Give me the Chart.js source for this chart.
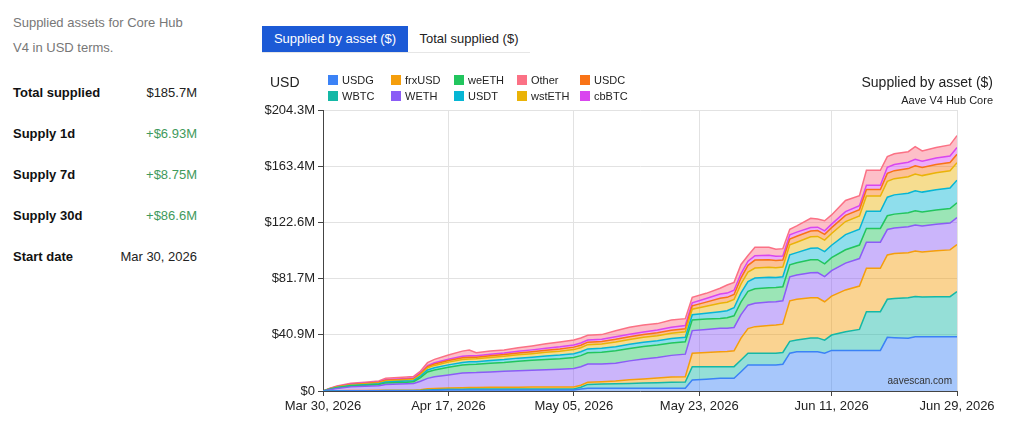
<!DOCTYPE html>
<html>
<head>
<meta charset="utf-8">
<script src="https://cdn.jsdelivr.net/npm/chart.js@4.4.1/dist/chart.umd.min.js"></script>
<style>
  body { margin: 0; width: 1024px; height: 428px; background: #fff; position: relative; overflow: hidden;
         font-family: "Liberation Sans", Arial, sans-serif; color: #222; }
  .intro { position: absolute; left: 13px; top: 10px; width: 220px; font-size: 13px; line-height: 25px; color: #777; }
  .stats { position: absolute; left: 13px; top: 72px; width: 184px; }
  .stats .row { display: flex; justify-content: space-between; height: 41px; line-height: 41px; font-size: 13px; }
  .stats .lbl { font-weight: bold; color: #111; }
  .stats .pos { color: #3f9a5c; }
  .tabs { position: absolute; left: 262px; top: 26px; height: 26px; display: flex; border-bottom: 1px solid #e6e6e6; width: 268px; }
  .tab { font-size: 13px; line-height: 26px; text-align: center; }
  .tab.on { background: #1c5ad6; color: #fff; width: 146px; }
  .tab.off { color: #222; width: 122px; }
  #wrap { position: absolute; left: 250px; top: 60px; width: 750px; height: 368px; }
  .unit { position: absolute; left: 270px; top: 74px; font-size: 14px; }
  #legend { position: absolute; left: 328px; top: 75px; display: grid; grid-template-columns: repeat(5, 63px); row-gap: 6px; }
  #legend .item { display: flex; align-items: center; font-size: 11px; height: 10px; }
  #legend .sw { width: 10px; height: 10px; margin-right: 4px; }
  .title { position: absolute; right: 31px; top: 74px; font-size: 14px; }
  .sub { position: absolute; right: 31px; top: 94px; font-size: 11px; }
  .mark { position: absolute; right: 72px; top: 375px; font-size: 10px; color: #333; }
</style>
</head>
<body>
<div class="intro">Supplied assets for Core Hub<br>V4 in USD terms.</div>
<div class="stats">
  <div class="row"><span class="lbl">Total supplied</span><span>$185.7M</span></div>
  <div class="row"><span class="lbl">Supply 1d</span><span class="pos">+$6.93M</span></div>
  <div class="row"><span class="lbl">Supply 7d</span><span class="pos">+$8.75M</span></div>
  <div class="row"><span class="lbl">Supply 30d</span><span class="pos">+$86.6M</span></div>
  <div class="row"><span class="lbl">Start date</span><span>Mar 30, 2026</span></div>
</div>
<div class="tabs"><div class="tab on">Supplied by asset ($)</div><div class="tab off">Total supplied ($)</div></div>
<div id="wrap"><canvas id="chartAssets" width="750" height="368"></canvas></div>
<div class="unit">USD</div>
<div id="legend"></div>
<div class="title">Supplied by asset ($)</div>
<div class="sub">Aave V4 Hub Core</div>
<div class="mark">aavescan.com</div>

<script>
// dias desde el 30 de marzo de 2026
const days = [0,1,2,4,6,8,9, 12,13,14,15,16,18, 20,21,22,24,26,28, 30,32,34,36,37,38, 40,42,44,46,48,50,
  52,53,55,57,58,59, 60,61,62,64,65,66, 67,68,70,71,72,73, 75,77,78,80,81,82, 84,85,86,88,90,91];

const tickDays = [0, 18, 36, 54, 73, 91];
const tickLabels = ['Mar 30, 2026', 'Apr 17, 2026', 'May 05, 2026', 'May 23, 2026', 'Jun 11, 2026', 'Jun 29, 2026'];
const yTicks = [0, 40.86, 81.72, 122.58, 163.44, 204.3];
const yTickLabels = ['$0', '$40.9M', '$81.7M', '$122.6M', '$163.4M', '$204.3M'];

// activos en orden de apilado (abajo -> arriba)
const assets = ['USDG', 'WBTC', 'frxUSD', 'WETH', 'weETH', 'USDT', 'wstETH', 'USDC', 'cbBTC', 'Other'];
const colors = ['#3b82f6', '#14b8a6', '#f59e0b', '#8b5cf6', '#22c55e', '#06b6d4', '#eab308', '#f97316', '#d946ef', '#fb7185'];
const legendOrder = ['USDG', 'frxUSD', 'weETH', 'Other', 'USDC', 'WBTC', 'WETH', 'USDT', 'wstETH', 'cbBTC'];

// valores en millones de USD
const usdg = [0,0,0.05,0.1,0.1,0.1,0.1, 0.1,0.1,0.2,0.4,0.5,0.7, 0.8,0.8,0.8,0.8,0.8,0.8, 0.8,0.8,0.8,0.8,1.5,2, 2,2,2,2,2,2,
  2,8,8.6,9.2,9.2,9.2, 14,18.9,18.9,18.9,18.9,19.5, 27.5,28.5,28.5,28.5,27.4,29.5, 29.5,29.5,29.5,29.5,39,38.8, 38.3,39.5,39.5,39.5,39.5,39.5];
const wbtc = [0,0,0.05,0.1,0.1,0.1,0.2, 0.2,0.2,0.2,0.4,0.4,0.5, 0.5,0.6,0.6,0.6,0.6,0.6, 0.6,0.6,0.6,0.6,1.2,2.8, 3,3.2,3.5,3.8,4,4.3,
  4.5,9.7,9.1,8.5,8.5,8.5, 8.5,8.5,8.5,8.5,8.5,8.5, 8.6,8.6,10.1,10.1,9.6,11.2, 13.5,15.3,28.2,28.2,27.7,28.5, 29.5,29.2,28.8,29,29.1,32.7];
const frxusd = [0,0.1,0.1,0.2,0.2,0.3,0.3, 0.3,0.3,0.5,0.8,0.9,1.0, 1.1,1.2,1.2,1.3,1.4,1.4, 1.5,1.5,1.5,1.5,1.5,1.6, 1.8,2,2.6,3,3.4,3.8,
  3.9,9.7,10.3,10.9,11,11.5, 16,18,19.4,20.3,20.5,20.6, 29.5,29.6,29.2,29.2,27.9,28.3, 30.5,31.5,31.5,31.5,32.2,32.6, 32.8,33,32.8,33.5,34,34.3];
const weth = [0,0.9,1.7,2.6,3,3.4,4.2, 4.6,4.8,6.2,7.6,8.5,9.5, 10.6,10.7,10.8,11.2,11.5,11.9, 12.2,12.6,13,13.5,13.4,13.2, 12.9,13,13.8,14.5,15,15.8,
  16.4,16.5,16.8,17,17,17, 17,17,17,17,17,17, 17.4,17.6,18.2,18.3,18.3,18.5, 19.5,20,19,19,18.5,18.6, 18.8,19,18.9,19.2,19.5,19.6];
const weeth = [0,0.2,0.4,0.6,0.7,0.8,1.1, 1.2,1.3,2.6,4.6,5,5.5, 5.9,6,6,6.3,6.5,7, 7.2,7.4,7.6,8,8.1,8.2, 8.5,9,9,9,9,9,
  9,7.8,7.5,7.2,7.6,8.5, 9.3,10,10.5,10.4,10.3,10.2, 8.8,9,9.4,9.4,9.3,9.5, 9.7,9.8,10,10,10,10.1, 10.2,10.3,10.2,10.4,10.5,10.7];
const usdt = [0,0.2,0.3,0.4,0.5,0.6,0.7, 0.8,0.8,1.2,1.5,1.6,1.8, 1.9,1.9,1.9,2,2.1,2.2, 2.3,2.5,2.6,2.7,2.8,2.8, 2.9,3,3.1,3.1,3.1,3.2,
  3.2,3.7,4.3,4.9,5,5.8, 6.5,7.2,7.8,7.6,7.4,7.3, 7.2,7.3,8.4,8.5,8.8,9, 11,11.5,12.5,12.5,13.5,14, 14.2,14.6,14.4,14.8,15,16.5];
const wsteth = [0,0.2,0.3,0.4,0.5,0.6,0.7, 0.8,0.8,1.1,1.5,1.7,2, 2.1,2.1,2.1,2.2,2.3,2.4, 2.5,2.7,2.8,3,3,3.1, 3.1,3.4,3.5,3.6,3.7,3.9,
  4,4.1,5,6.1,6.2,6.1, 6.5,6.8,7.3,7.3,7.1,7.1, 7.3,7.6,8.3,8.4,8.4,8.5, 9.5,9.7,11,11,11.5,11.8, 12,12.2,12,12.3,12.5,12.7];
const usdc = [0,0.1,0.2,0.4,0.4,0.4,0.5, 0.6,0.6,0.7,0.9,1,1.1, 1.2,1.2,1.2,1.3,1.3,1.4, 1.5,1.6,1.7,1.8,1.8,1.8, 1.8,2,2,2,2.1,2.2,
  2.3,2.4,3,3.6,3.6,3.6, 4.5,5,5.8,5.5,5.2,5, 4.2,4.3,4.2,4.2,4.2,4.3, 4.5,4.6,4.8,4.8,5.8,5.8, 5.9,6,5.9,6,6,6.1];
const cbbtc = [0,0.1,0.2,0.3,0.3,0.3,0.4, 0.4,0.5,0.6,0.8,0.9,1, 1.1,1.1,1.1,1.1,1.1,1.2, 1.3,1.4,1.5,1.6,1.6,1.6, 1.7,1.8,1.8,1.9,2,2.2,
  2.3,2.2,2.6,3.1,3.1,3.1, 3.1,3,3.2,3.2,3,3, 3,3,2.5,2.5,2.5,2.5, 2.7,2.8,3,3,4.5,4.5, 4.6,4.7,4.6,4.7,4.8,4.9];
const other = [0,0.2,0.3,0.5,0.6,0.7,1.0, 1.2,1.2,1.2,2.1,2.5,3.1, 3.8,4.2,2.2,2.2,2.2,2.6, 2.9,3.2,3.5,3.6,3.6,3.4, 3.3,4.4,5.0,5.1,4.7,5.2,
  5.0,4.0,3.8,4.2,5.9,5.7, 6.6,4.1,6.1,5.8,5.1,5.3, 4.1,4.5,6.8,5.9,7.4,6.7, 8.1,7.3,11,11,7.7,7.8, 7.7,9.1,7.4,7.6,8.0,8.7];

const series = [usdg, wbtc, frxusd, weth, weeth, usdt, wsteth, usdc, cbbtc, other];

function tint(hex, a) {
    const n = parseInt(hex.slice(1), 16);
    return `rgba(${n >> 16}, ${(n >> 8) & 255}, ${n & 255}, ${a})`;
}

// leyenda en HTML (dos filas de cinco)
const legend = document.getElementById('legend');
legendOrder.forEach(name => {
    const i = assets.indexOf(name);
    const item = document.createElement('div');
    item.className = 'item';
    item.innerHTML = `<span class="sw" style="background:${colors[i]}"></span>${name}`;
    legend.appendChild(item);
});

const ctx = document.getElementById('chartAssets').getContext('2d');
new Chart(ctx, {
    type: 'line',
    data: {
        datasets: assets.map((name, i) => ({
            label: name,
            data: days.map((d, j) => ({ x: d, y: series[i][j] })),
            borderColor: colors[i],
            backgroundColor: tint(colors[i], 0.45),
            borderWidth: 1.5,
            fill: i === 0 ? 'origin' : '-1',
            pointRadius: 0,
            tension: 0
        }))
    },
    options: {
        responsive: false,
        animation: false,
        layout: { padding: { top: 50, right: 43, left: 0, bottom: 0 } },
        plugins: { legend: { display: false }, tooltip: { enabled: false } },
        scales: {
            x: {
                type: 'linear',
                min: 0,
                max: 91,
                afterBuildTicks: s => { s.ticks = tickDays.map(v => ({ value: v })); },
                afterFit: s => { s.height = 37; },
                ticks: {
                    autoSkip: false,
                    maxRotation: 0,
                    color: '#222',
                    font: { family: 'Liberation Sans', size: 13 },
                    padding: 3,
                    callback: (v, i) => tickLabels[i]
                },
                grid: { color: '#e2e2e2', tickColor: '#444', tickLength: 5 },
                border: { color: '#444' }
            },
            y: {
                stacked: true,
                min: 0,
                max: 204.3,
                afterBuildTicks: s => { s.ticks = yTicks.map(v => ({ value: v })); },
                afterFit: s => { s.width = 73; },
                ticks: {
                    color: '#222',
                    font: { family: 'Liberation Sans', size: 13 },
                    padding: 3,
                    callback: (v, i) => yTickLabels[i]
                },
                grid: { color: '#e2e2e2', tickColor: '#444', tickLength: 5 },
                border: { color: '#444' }
            }
        }
    }
});
</script>
</body>
</html>
